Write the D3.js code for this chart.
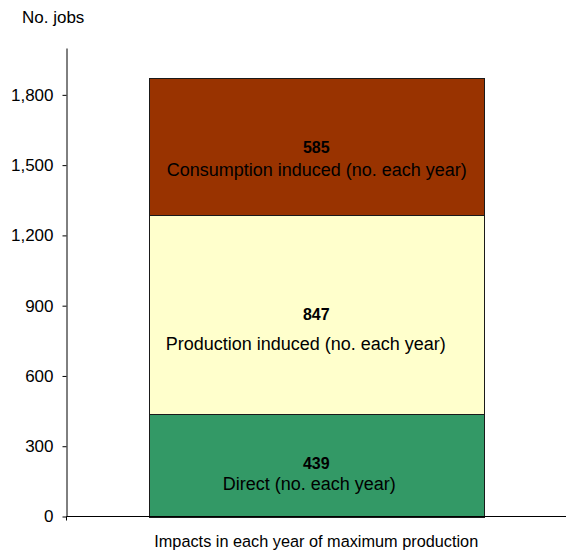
<!DOCTYPE html>
<html><head><meta charset="utf-8">
<script src="https://cdn.jsdelivr.net/npm/d3@7"></script>
<style>body{margin:0;background:#fff}svg{display:block}text{font-family:"Liberation Sans",Arial,sans-serif;fill:#000}</style>
</head><body><svg id="c" width="566" height="551"></svg>
<script>
const category = ["Impacts in each year of maximum production"];
const seriesNames = ["Direct", "Production induced", "Consumption induced"];
const seriesValues = [439, 847, 585];
const seriesLabels = ["Direct (no. each year)", "Production induced (no. each year)", "Consumption induced (no. each year)"];
const seriesColors = ["#339966", "#FFFFCC", "#993300"];
const yTicks = [0, 300, 600, 900, 1200, 1500, 1800];
const yMax = 2000;

(function () {
const svg = d3.select("#c");
const mLeft = 66.5, mRight = 566, mTop = 48, mBottom = 516.5;
const x = d3.scaleBand().domain(category).range([mLeft, mRight]).paddingInner(0.1966).paddingOuter(0.1966);
const y = d3.scaleLinear().domain([0, yMax]).range([mBottom, mTop]);

let acc = 0;
const stacked = seriesValues.map((v, i) => { const s = {y0: acc, y1: acc + v, v, i}; acc += v; return s; });

svg.append("g").selectAll("rect").data(stacked).join("rect")
  .attr("x", Math.round(x(category[0])) + 0.5)
  .attr("width", Math.round(x.bandwidth()))
  .attr("y", d => Math.round(y(d.y1)) + 0.5)
  .attr("height", d => Math.round(y(d.y0)) - Math.round(y(d.y1)))
  .attr("fill", d => seriesColors[d.i])
  .attr("stroke", "#1a1a1a").attr("stroke-width", 1);

const labelOffsets = [
  {num: -1.5, txt: 18.5, ndx: 0, tdx: -7},
  {num: 0, txt: 29, ndx: 0, tdx: -10.5},
  {num: 0.5, txt: 23, ndx: 0, tdx: 0.5}
];
const cx = x(category[0]) + x.bandwidth() / 2;
const lg = svg.append("g");
stacked.forEach((d, i) => {
  const my = y((d.y0 + d.y1) / 2);
  const o = labelOffsets[i];
  lg.append("text").attr("x", cx + o.ndx).attr("y", my + o.num).attr("text-anchor", "middle")
    .attr("font-size", 16).attr("font-weight", "bold").attr("dy", "0.35em").text(d3.format(",")(d.v));
  lg.append("text").attr("x", cx + o.tdx).attr("y", my + o.txt).attr("text-anchor", "middle")
    .attr("font-size", 18).attr("dy", "0.35em").text(seriesLabels[i]);
});

const yAxis = d3.axisLeft(y).tickValues(yTicks).tickFormat(d3.format(",")).tickSize(4).tickSizeOuter(0).tickPadding(9);
const ga = svg.append("g").attr("transform", `translate(${mLeft},0)`).call(yAxis);
ga.selectAll("text").attr("font-size", 17).attr("font-family", '"Liberation Sans",Arial,sans-serif').attr("fill", "#000");
ga.selectAll("line,path").attr("stroke", "#000");

const xAxis = d3.axisBottom(x).tickSize(0).tickSizeOuter(0).tickPadding(18.5);
const gx = svg.append("g").attr("transform", `translate(0,${mBottom})`).call(xAxis);
gx.select("path").attr("stroke", "#000").attr("d", `M${mLeft},4V0H${mRight}`);
gx.selectAll("text").attr("font-size", 16.3).attr("font-family", '"Liberation Sans",Arial,sans-serif').attr("fill", "#000");

svg.append("text").attr("x", 22).attr("y", 23).attr("font-size", 17).text("No. jobs");
})();
</script></body></html>
